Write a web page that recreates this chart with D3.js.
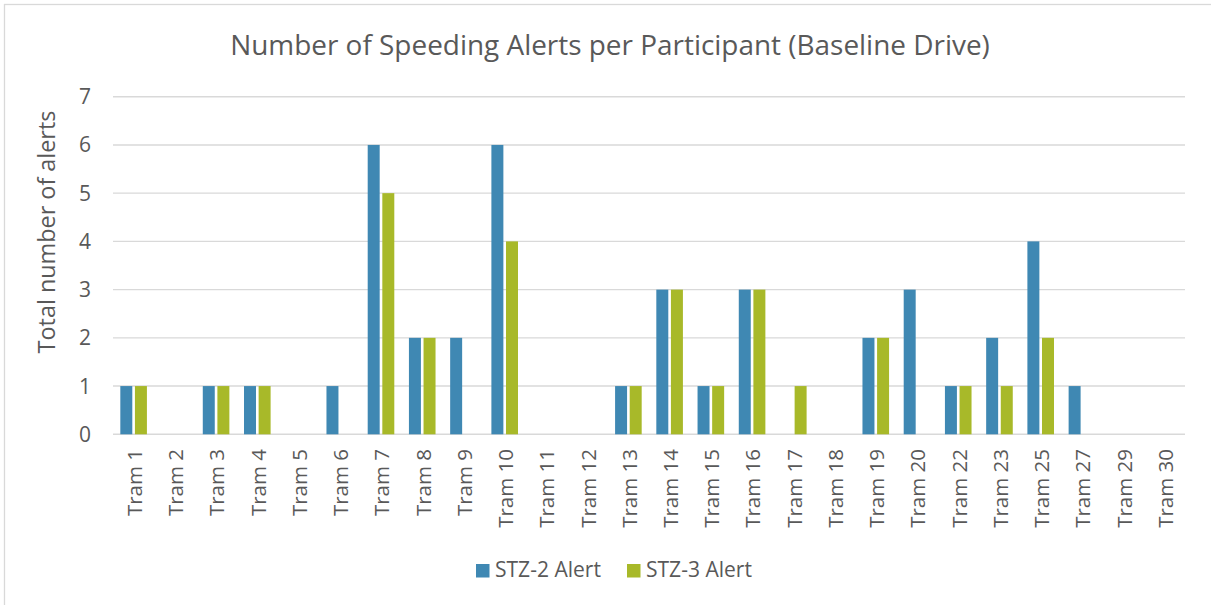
<!DOCTYPE html>
<html>
<head>
<meta charset="utf-8">
<script src="https://cdn.jsdelivr.net/npm/d3@7"></script>
<style>
  body { margin: 0; background: #fff; }
  text { font-family: "Open Sans", sans-serif; fill: #595959; }
</style>
</head>
<body>
<div id="chart"></div>
<script>
// chart data
var categories = ["Tram 1", "Tram 2", "Tram 3", "Tram 4", "Tram 5", "Tram 6", "Tram 7", "Tram 8", "Tram 9", "Tram 10",
  "Tram 11", "Tram 12", "Tram 13", "Tram 14", "Tram 15", "Tram 16", "Tram 17", "Tram 18", "Tram 19", "Tram 20",
  "Tram 22", "Tram 23", "Tram 25", "Tram 27", "Tram 29", "Tram 30"];
var seriesNames = ["STZ-2 Alert", "STZ-3 Alert"];
var stz2 = [1, 0, 1, 1, 0, 1, 6, 2, 2, 6, 0, 0, 1, 3, 1, 3, 0, 0, 2, 3, 1, 2, 4, 1, 0, 0];
var stz3 = [1, 0, 1, 1, 0, 0, 5, 2, 0, 4, 0, 0, 1, 3, 1, 3, 1, 0, 2, 0, 1, 1, 2, 0, 0, 0];
var yTicks = [0, 1, 2, 3, 4, 5, 6, 7];

var W = 1211, H = 605;
var blue = "#3f88b3";
var green = "#a8b929";
var colors = [blue, green];
var grid = "#d9d9d9";

var svg = d3.select("#chart").append("svg")
  .attr("width", W)
  .attr("height", H);

// outer chart border (only top/left visible)
svg.append("rect")
  .attr("x", 4.5).attr("y", 4.5)
  .attr("width", 1230).attr("height", 640)
  .attr("fill", "none")
  .attr("stroke", grid)
  .attr("stroke-width", 1.3);

var plot = { left: 113, right: 1185, top: 96.7, bottom: 434.3 };

var x0 = d3.scaleBand()
  .domain(categories)
  .range([plot.left, plot.right])
  .padding(0);

var grpW = 26.6;
var x1 = d3.scaleBand()
  .domain(seriesNames)
  .range([(x0.bandwidth() - grpW) / 2, (x0.bandwidth() + grpW) / 2])
  .paddingInner(0.18);

var y = d3.scaleLinear()
  .domain([0, 7])
  .range([plot.bottom, plot.top]);

// fit text to a target width by adjusting font size
function fit(sel, target) {
  var fs = parseFloat(sel.style("font-size"));
  var len = sel.node().getComputedTextLength();
  sel.style("font-size", (fs * target / len) + "px");
}

// gridlines
svg.append("g")
  .selectAll("line")
  .data(yTicks)
  .enter().append("line")
  .attr("x1", plot.left).attr("x2", plot.right)
  .attr("y1", function(d) { return y(d); })
  .attr("y2", function(d) { return y(d); })
  .attr("stroke", grid)
  .attr("stroke-width", 1.4);

// y tick labels
svg.append("g")
  .selectAll("text")
  .data(yTicks)
  .enter().append("text")
  .attr("x", 91)
  .attr("y", function(d) { return y(d); })
  .attr("dy", "0.36em")
  .attr("text-anchor", "end")
  .style("font-size", "21px")
  .text(function(d) { return d; });

// bars
var rows = categories.map(function(c, i) {
  return { cat: c, vals: [stz2[i], stz3[i]] };
});

var groups = svg.append("g")
  .selectAll("g")
  .data(rows)
  .enter().append("g")
  .attr("transform", function(d) { return "translate(" + x0(d.cat) + ",0)"; });

groups.selectAll("rect")
  .data(function(d) {
    return d.vals.map(function(v, k) { return { s: seriesNames[k], v: v, k: k }; });
  })
  .enter().append("rect")
  .filter(function(d) { return d.v > 0; })
  .attr("x", function(d) { return x1(d.s); })
  .attr("y", function(d) { return y(d.v); })
  .attr("width", x1.bandwidth())
  .attr("height", function(d) { return y(0) - y(d.v); })
  .attr("fill", function(d) { return colors[d.k]; });

// x tick labels, rotated
svg.append("g")
  .selectAll("text")
  .data(categories)
  .enter().append("text")
  .attr("transform", function(d) {
    return "translate(" + (x0(d) + x0.bandwidth() / 2 + 1) + ",449) rotate(-90)";
  })
  .attr("dy", "0.36em")
  .attr("text-anchor", "end")
  .style("font-size", "20.5px")
  .text(function(d) { return d; });

// title
var title = svg.append("text")
  .attr("x", 610)
  .attr("y", 55)
  .attr("text-anchor", "middle")
  .style("font-size", "26px")
  .text("Number of Speeding Alerts per Participant (Baseline Drive)");
fit(title, 760);

// y axis title
var ytitle = svg.append("text")
  .attr("transform", "translate(55,232) rotate(-90)")
  .attr("text-anchor", "middle")
  .style("font-size", "20px")
  .text("Total number of alerts");
fit(ytitle, 243);

// legend
var legendX = [476, 627];
var legend = svg.append("g")
  .selectAll("g")
  .data(seriesNames)
  .enter().append("g")
  .attr("transform", function(d, i) { return "translate(" + legendX[i] + ",564)"; });

legend.append("rect")
  .attr("width", 13.5).attr("height", 13.5)
  .attr("fill", function(d, i) { return colors[i]; });

legend.append("text")
  .attr("x", 19)
  .attr("y", 13)
  .style("font-size", "19px")
  .text(function(d) { return d; })
  .each(function() { fit(d3.select(this), 106); });
</script>
</body>
</html>
